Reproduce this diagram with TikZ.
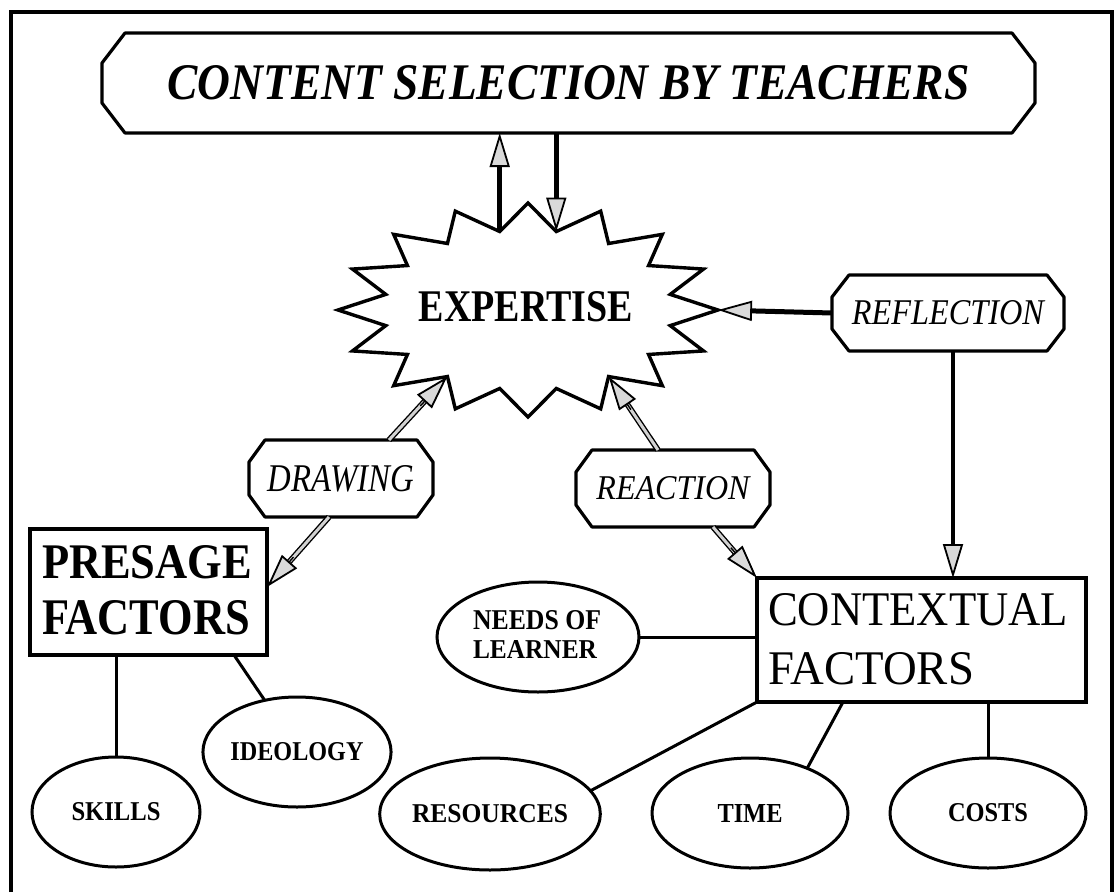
\documentclass[tikz,border=0pt]{standalone}
\usepackage{fontspec}
\setmainfont{Liberation Serif}
\usepackage{graphicx}
\usetikzlibrary{shapes.geometric,arrows.meta,calc}
\newcommand\octa[3]{\draw[boxline] ($(#1.north west)+(#2,0)$) -- ($(#1.north east)+(-#2,0)$) -- ($(#1.north east)+(0,#3)$) -- ($(#1.south east)+(0,-#3)$) -- ($(#1.south east)+(-#2,0)$) -- ($(#1.south west)+(#2,0)$) -- ($(#1.south west)+(0,-#3)$) -- ($(#1.north west)+(0,#3)$) -- cycle;}
\newcommand\fitt[3]{\resizebox{#1pt}{#2pt}{#3}}
\begin{document}
\begin{tikzpicture}[x=1pt,y=-1pt,
  boxline/.style={line width=3.2pt, line join=round},
  conn/.style={line width=3pt},
  plain/.style={inner sep=0pt, outer sep=0pt},
  holder/.style={inner sep=0pt, outer sep=0pt, draw=none},
  rectbox/.style={draw, line width=3.2pt, inner sep=0pt, outer sep=0pt},
  ell/.style={ellipse, draw, line width=3pt, inner sep=0pt, outer sep=0pt},
  tipG/.style={-{Triangle[length=34pt, width=20pt, fill=gray!30, line width=1.8pt]}},
  blackarrow/.style={line width=4.5pt, tipG},
  dbl/.style={line width=1.4pt, double=gray!35, double distance=3pt},
  tipdraw/.style={line width=1.4pt, tipG}
]
\useasboundingbox (0,0) rectangle (1117,892);
% frame
\draw[line width=3.4pt] (11,892) -- (11,12) -- (1112,12) -- (1112,892);

% banner
\node[holder, minimum width=933pt, minimum height=100pt] (ban) at (568.5,83)
  {\fitt{802}{34}{\bfseries\itshape CONTENT SELECTION BY TEACHERS}};
\octa{ban}{23}{30}

% star
\coordinate (sc) at (528,310);
\draw[line width=3.4pt, line join=miter] (528,203) \foreach \i in {1,...,31}{ -- ({528+(isodd(\i)?145:190)*cos(90-\i*11.25)}, {310-(isodd(\i)?80:107)*sin(90-\i*11.25)}) } -- cycle;
\node[plain] (exp) at (526,307) {\fitt{214}{30}{\bfseries EXPERTISE}};
\coordinate (nU) at (499.7,231.5);
\coordinate (nD) at (556.3,231.5);
\coordinate (tR) at (718,310);
\coordinate (nDL) at (447.4,376.5);
\coordinate (nRE) at (608.6,376.5);

% octagon labels
\node[holder, minimum width=184pt, minimum height=77pt] (drw) at (341,478.5) {\fitt{146}{26}{\itshape DRAWING}};
\octa{drw}{16}{22}
\node[holder, minimum width=194pt, minimum height=77pt] (rea) at (673,488.5) {\fitt{153}{23}{\itshape REACTION}};
\octa{rea}{16}{22}
\node[holder, minimum width=232pt, minimum height=76pt] (refl) at (948,313) {\fitt{192}{24}{\itshape REFLECTION}};
\octa{refl}{17}{22}

% factor boxes
\node[rectbox, minimum width=237pt, minimum height=126pt] (pres) at (148.5,592) {};
\node[plain, anchor=base west] (pres1) at (42,578) {\fitt{210}{33}{\bfseries PRESAGE}};
\node[plain, anchor=base west] (pres2) at (42,634) {\fitt{208}{34}{\bfseries FACTORS}};
\node[rectbox, minimum width=329pt, minimum height=124pt] (ctx) at (921.5,640) {};
\node[plain, anchor=base west] (ctx1) at (768,625) {\fitt{300}{32}{CONTEXTUAL}};
\node[plain, anchor=base west] (ctx2) at (768,684) {\fitt{206}{32}{FACTORS}};

% ellipses
\node[ell, minimum width=168pt, minimum height=110pt] (skills) at (116,812) {\fitt{89}{18}{\bfseries SKILLS}};
\node[ell, minimum width=180pt, minimum height=110pt] (ideo) at (297,752) {\fitt{133}{18}{\bfseries IDEOLOGY}};
\node[ell, minimum width=202pt, minimum height=110pt] (needs) at (538,637) {};
\node[plain, anchor=base west] (needs1) at (473,629) {\fitt{128}{19}{\bfseries NEEDS OF}};
\node[plain, anchor=base west] (needs2) at (473,658) {\fitt{124}{18}{\bfseries LEARNER}};
\node[ell, minimum width=196pt, minimum height=112pt] (res) at (490,814) {\fitt{156}{18}{\bfseries RESOURCES}};
\node[ell, minimum width=196pt, minimum height=110pt] (time) at (750,813) {\fitt{65}{18}{\bfseries TIME}};
\node[ell, minimum width=196pt, minimum height=110pt] (costs) at (988,813) {\fitt{80}{18}{\bfseries COSTS}};

% arrows between banner and star
\draw[blackarrow] (nU) -- (nU |- ban.south);
\draw[blackarrow] (nD |- ban.south) -- (nD);
% reflection
\draw[blackarrow, line width=5pt] (refl.west) -- (tR);
\coordinate (vx) at (953,0);
\draw[blackarrow] (refl.south -| vx) -- (ctx.north -| vx);

% hatched arrows
\coordinate (d1) at ($(drw.north)+(48,0)$);
\draw[dbl, shorten >=28pt] (d1) -- (nDL);
\draw[tipdraw] ($(nDL)!40pt!(d1)$) -- (nDL);
\coordinate (d2) at ($(drw.south)+(-12,0)$);
\coordinate (p2) at ($(pres.north east)+(0,58)$);
\draw[dbl, shorten >=28pt] (d2) -- (p2);
\draw[tipdraw] ($(p2)!40pt!(d2)$) -- (p2);
\coordinate (r1) at ($(rea.north)+(-15,0)$);
\draw[dbl, shorten >=28pt] (r1) -- (nRE);
\draw[tipdraw] ($(nRE)!40pt!(r1)$) -- (nRE);
\coordinate (r2) at ($(rea.south)+(40,0)$);
\draw[dbl, shorten >=28pt] (r2) -- (ctx.north west);
\draw[tipdraw] ($(ctx.north west)!40pt!(r2)$) -- (ctx.north west);

% plain connectors
\draw[conn] (pres.south -| skills.north) -- (skills.north);
\draw[conn] ($(pres.south east)+(-33,0)$) -- (ideo.122);
\draw[conn] (needs.east) -- (needs.east -| ctx.west);
\draw[conn] (ctx.south west) -- (res.13);
\draw[conn] ($(ctx.south west)+(86,0)$) -- (time.38);
\draw[conn] (ctx.south -| costs.north) -- (costs.north);
\end{tikzpicture}
\end{document}
